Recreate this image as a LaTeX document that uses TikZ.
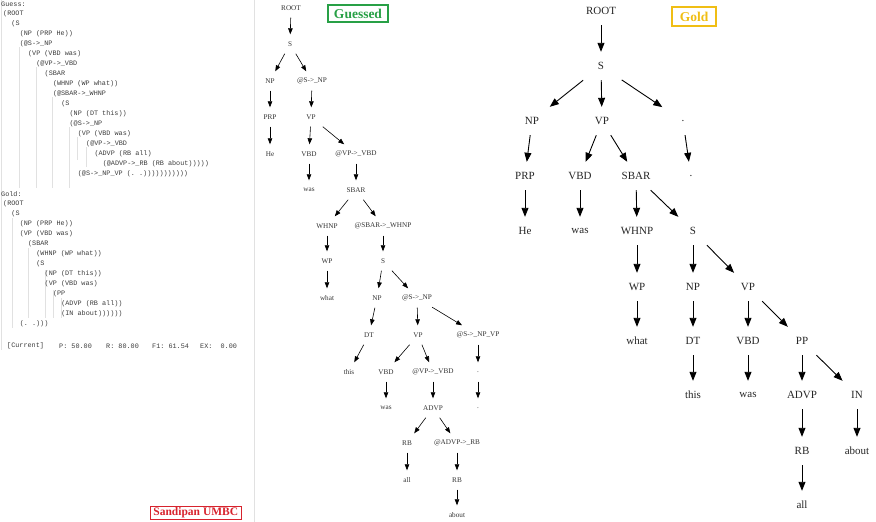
\documentclass[tikz,border=0pt]{standalone}
\usepackage{fontspec}
\setmainfont{Liberation Serif}
\setmonofont{Liberation Mono}
\usetikzlibrary{arrows.meta}
\definecolor{guessgreen}{RGB}{40,160,70}
\definecolor{goldyellow}{RGB}{240,190,20}
\definecolor{umbcred}{RGB}{215,35,45}
\definecolor{codegray}{RGB}{60,60,60}
\definecolor{guidegray}{RGB}{225,225,225}
\tikzset{
  code/.style={anchor=west, inner sep=0pt, font=\ttfamily\fontsize{6.8}{6.8}\selectfont, text=codegray},
  gsn/.style={inner sep=0pt, minimum width=27pt, minimum height=19pt,
    font=\fontsize{7.2}{7.2}\selectfont, text=black!80},
  gdn/.style={inner sep=0pt, minimum width=41pt, minimum height=28pt,
    font=\fontsize{11}{11}\selectfont, text=black!85},
  garr/.style={-{Triangle[length=6pt,width=4.5pt]}, line width=0.6pt},
  darr/.style={-{Triangle[length=9pt,width=7pt]}, line width=0.9pt},
  tag/.style={draw, inner sep=0pt, font=\bfseries\fontsize{13.5}{13.5}\selectfont},
  guide/.style={guidegray, line width=0.6pt}
}
% one line of the bracketed parse: name, depth, y, text
\newcommand{\codeln}[4]{\node[code] (#1) at ({3+8.3*#2},#3) {#4};}

\begin{document}
\begin{tikzpicture}[x=1pt, y=-1pt]
  \useasboundingbox (0,0) rectangle (876,522);

  % panel edges and tree guides
  \draw[guide] (1.5,0) -- (1.5,350);
  \draw[guide] (254,0) -- (254,522);
  \foreach \gx/\ga/\gb in {19/47/188, 36/67/188, 52/97/188, 69/127/188, 77/137/160, 86/147/167}
    \draw[guide] (\gx,\ga) -- (\gx,\gb);
  \foreach \gx/\ga/\gb in {12/218/328, 28/248/318, 45/270/318, 53/290/318, 61/298/318}
    \draw[guide] (\gx,\ga) -- (\gx,\gb);

  % guessed parse as text
  \node[code] (guesshd) at (1,4) {Guess:};
  \codeln{gl1}{0}{14}{(ROOT}
  \codeln{gl2}{1}{24}{(S}
  \codeln{gl3}{2}{34}{(NP (PRP He))}
  \codeln{gl4}{2}{44}{(@S->\_NP}
  \codeln{gl5}{3}{54}{(VP (VBD was)}
  \codeln{gl6}{4}{64}{(@VP->\_VBD}
  \codeln{gl7}{5}{74}{(SBAR}
  \codeln{gl8}{6}{84}{(WHNP (WP what))}
  \codeln{gl9}{6}{94}{(@SBAR->\_WHNP}
  \codeln{gl10}{7}{104}{(S}
  \codeln{gl11}{8}{114}{(NP (DT this))}
  \codeln{gl12}{8}{124}{(@S->\_NP}
  \codeln{gl13}{9}{134}{(VP (VBD was)}
  \codeln{gl14}{10}{144}{(@VP->\_VBD}
  \codeln{gl15}{11}{154}{(ADVP (RB all)}
  \codeln{gl16}{12}{164}{(@ADVP->\_RB (RB about)))))}
  \codeln{gl17}{9}{174}{(@S->\_NP\_VP (. .)))))))))))}

  % gold parse as text
  \node[code] (goldhd) at (1,194) {Gold:};
  \codeln{dl1}{0}{204}{(ROOT}
  \codeln{dl2}{1}{214}{(S}
  \codeln{dl3}{2}{224}{(NP (PRP He))}
  \codeln{dl4}{2}{234}{(VP (VBD was)}
  \codeln{dl5}{3}{244}{(SBAR}
  \codeln{dl6}{4}{254}{(WHNP (WP what))}
  \codeln{dl7}{4}{264}{(S}
  \codeln{dl8}{5}{274}{(NP (DT this))}
  \codeln{dl9}{5}{284}{(VP (VBD was)}
  \codeln{dl10}{6}{294}{(PP}
  \codeln{dl11}{7}{304}{(ADVP (RB all))}
  \codeln{dl12}{7}{314}{(IN about))))))}
  \codeln{dl13}{2}{324}{(. .)))}

  % scores
  \node[code] (cur) at (7,346) {[Current]};
  \node[code] (prec) at (59,346) {P: 50.00};
  \node[code] (rec) at (106,346) {R: 80.00};
  \node[code] (fone) at (152,346) {F1: 61.54};
  \node[code] (exm) at (200,346) {EX:\ \ 0.00};

  % guessed tree
  \node[gsn] (groot) at (291,8) {ROOT};
  \node[gsn] (gs) at (290,44) {S};
  \node[gsn] (gnp) at (270,81) {NP};
  \node[gsn] (gsnp) at (312,81) {@S->\_NP};
  \node[gsn] (gprp) at (270,117) {PRP};
  \node[gsn] (gvp) at (311,117) {VP};
  \node[gsn] (ghe) at (270,154) {He};
  \node[gsn] (gvbd) at (309,154) {VBD};
  \node[gsn] (gvpvbd) at (356,154) {@VP->\_VBD};
  \node[gsn] (gwas) at (309,190) {was};
  \node[gsn] (gsbar) at (356,190) {SBAR};
  \node[gsn] (gwhnp) at (327,226) {WHNP};
  \node[gsn] (gsbarw) at (383,226) {@SBAR->\_WHNP};
  \node[gsn] (gwp) at (327,261) {WP};
  \node[gsn] (gsb) at (383,261) {S};
  \node[gsn] (gwhat) at (327,298) {what};
  \node[gsn] (gnpb) at (377,298) {NP};
  \node[gsn] (gsnpb) at (417,298) {@S->\_NP};
  \node[gsn] (gdt) at (369,335) {DT};
  \node[gsn] (gvpb) at (418,335) {VP};
  \node[gsn] (gsnpvp) at (478,335) {@S->\_NP\_VP};
  \node[gsn] (gthis) at (349,372) {this};
  \node[gsn] (gvbdb) at (386,372) {VBD};
  \node[gsn] (gvpvbdb) at (433,372) {@VP->\_VBD};
  \node[gsn] (gdota) at (478,372) {.};
  \node[gsn] (gwasb) at (386,408) {was};
  \node[gsn] (gadvp) at (433,408) {ADVP};
  \node[gsn] (gdotb) at (478,408) {.};
  \node[gsn] (grb) at (407,443) {RB};
  \node[gsn] (gadvprb) at (457,443) {@ADVP->\_RB};
  \node[gsn] (gall) at (407,480) {all};
  \node[gsn] (grbb) at (457,480) {RB};
  \node[gsn] (gabout) at (457,515) {about};

  \foreach \a/\b in {groot/gs, gs/gnp, gs/gsnp, gnp/gprp, gsnp/gvp, gprp/ghe,
      gvp/gvbd, gvp/gvpvbd, gvbd/gwas, gvpvbd/gsbar, gsbar/gwhnp, gsbar/gsbarw,
      gwhnp/gwp, gsbarw/gsb, gwp/gwhat, gsb/gnpb, gsb/gsnpb, gnpb/gdt,
      gsnpb/gvpb, gsnpb/gsnpvp, gdt/gthis, gvpb/gvbdb, gvpb/gvpvbdb,
      gsnpvp/gdota, gvbdb/gwasb, gvpvbdb/gadvp, gdota/gdotb, gadvp/grb,
      gadvp/gadvprb, grb/gall, gadvprb/grbb, grbb/gabout}
    \draw[garr] (\a) -- (\b);

  % gold tree
  \node[gdn] (droot) at (601,11) {ROOT};
  \node[gdn] (ds) at (601,66) {S};
  \node[gdn] (dnp) at (532,121) {NP};
  \node[gdn] (dvp) at (602,121) {VP};
  \node[gdn] (ddota) at (683,121) {.};
  \node[gdn] (dprp) at (525,176) {PRP};
  \node[gdn] (dvbd) at (580,176) {VBD};
  \node[gdn] (dsbar) at (636,176) {SBAR};
  \node[gdn] (ddotb) at (691,176) {.};
  \node[gdn] (dhe) at (525,231) {He};
  \node[gdn] (dwas) at (580,231) {was};
  \node[gdn] (dwhnp) at (637,231) {WHNP};
  \node[gdn] (dsb) at (693,231) {S};
  \node[gdn] (dwp) at (637,287) {WP};
  \node[gdn] (dnpb) at (693,287) {NP};
  \node[gdn] (dvpb) at (748,287) {VP};
  \node[gdn] (dwhat) at (637,341) {what};
  \node[gdn] (ddt) at (693,341) {DT};
  \node[gdn] (dvbdb) at (748,341) {VBD};
  \node[gdn] (dpp) at (802,341) {PP};
  \node[gdn] (dthis) at (693,395) {this};
  \node[gdn] (dwasb) at (748,395) {was};
  \node[gdn] (dadvp) at (802,395) {ADVP};
  \node[gdn] (din) at (857,395) {IN};
  \node[gdn] (drb) at (802,451) {RB};
  \node[gdn] (dabout) at (857,451) {about};
  \node[gdn] (dall) at (802,505) {all};

  \foreach \a/\b in {droot/ds, ds/dnp, ds/dvp, ds/ddota, dnp/dprp, dvp/dvbd,
      dvp/dsbar, ddota/ddotb, dprp/dhe, dvbd/dwas, dsbar/dwhnp, dsbar/dsb,
      dwhnp/dwp, dsb/dnpb, dsb/dvpb, dwp/dwhat, dnpb/ddt, dvpb/dvbdb,
      dvpb/dpp, ddt/dthis, dvbdb/dwasb, dpp/dadvp, dpp/din, dadvp/drb,
      din/dabout, drb/dall}
    \draw[darr] (\a) -- (\b);

  % tags
  \node[tag, draw=guessgreen, text=guessgreen, line width=2pt,
    minimum width=60pt, minimum height=17pt] (guesstag) at (358,13.5) {Guessed};
  \node[tag, draw=goldyellow, text=goldyellow, line width=2pt,
    minimum width=44pt, minimum height=19pt] (goldtag) at (694,16.5) {Gold};
  \node[tag, draw=umbcred, text=umbcred, line width=0.8pt,
    minimum width=91pt, minimum height=13pt,
    font=\bfseries\fontsize{11.5}{11.5}\selectfont] (credit) at (195.8,512.5) {Sandipan UMBC};
\end{tikzpicture}
\end{document}
